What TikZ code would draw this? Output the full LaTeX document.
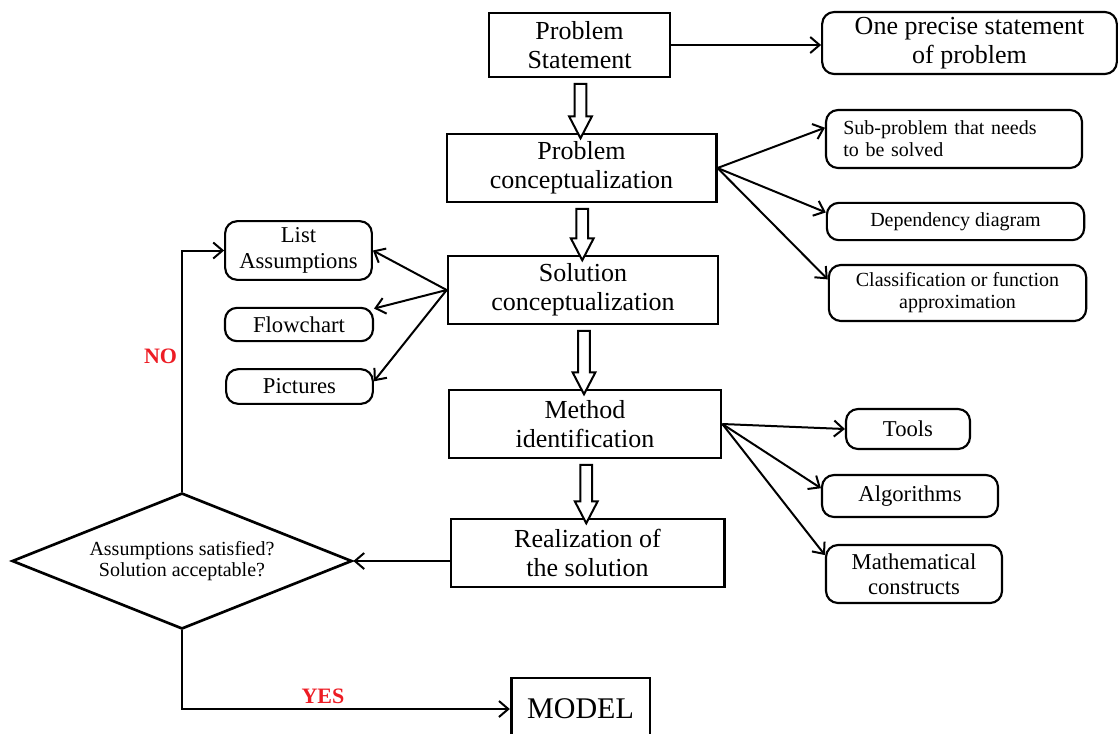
\documentclass[tikz,border=0pt]{standalone}
\usepackage{fontspec}
\setmainfont{Liberation Serif}
\usetikzlibrary{shapes.geometric,shapes.arrows,arrows.meta,calc}
\definecolor{labred}{RGB}{237,28,36}

\begin{document}
\begin{tikzpicture}[x=0.75pt,y=-0.75pt,
	>={Straight Barb[length=7pt,width=12pt]},
	box/.style={draw, line width=2pt, align=center, inner sep=0pt, font=\fontsize{19.5}{22}\selectfont},
	note/.style={draw, line width=1.6pt, rounded corners=9pt, align=center, inner sep=0pt, font=\fontsize{17}{19}\selectfont},
	smallnote/.style={note, font=\fontsize{15}{16.5}\selectfont},
	link/.style={->, line width=1.5pt},
	hollow/.style={single arrow, draw, fill=white, line width=1.5pt, rotate=-90, inner xsep=0pt, inner ysep=3.6pt, single arrow head extend=4.2pt, single arrow tip angle=55},
	answer/.style={text=labred, font=\fontsize{16.5}{18}\selectfont\bfseries}]
	\clip (0,0) rectangle (1119,733);
	\node[box, minimum width=135.75pt, minimum height=48pt] (ps) at (579.5,45) {Problem\\Statement};
	\node[note, minimum width=221pt, minimum height=46.5pt, font=\fontsize{19.5}{22}\selectfont] (one) at (969.5,43) {One precise statement\\of problem};
	\node[box, minimum width=202pt, minimum height=51pt] (pc) at (581.5,168) {Problem\\conceptualization};
	\node[smallnote, text width=166pt, inner xsep=13pt, minimum height=43.5pt, align=left] (sub) at (954,139) {Sub-problem that needs\\to be solved};
	\node[smallnote, minimum width=193pt, minimum height=28pt] (dep) at (955.5,221.5) {Dependency diagram};
	\node[smallnote, minimum width=193pt, minimum height=42pt] (cls) at (957.5,293) {Classification or function\\approximation};
	\node[box, minimum width=202.5pt, minimum height=51pt] (sc) at (583,290) {Solution\\conceptualization};
	\node[note, minimum width=110pt, minimum height=44pt] (la) at (298.5,250.5) {List\\Assumptions};
	\node[note, minimum width=111pt, minimum height=25pt] (fc) at (299,324.5) {Flowchart};
	\node[note, minimum width=110pt, minimum height=26pt] (pics) at (299.5,386.5) {Pictures};
	\node[box, minimum width=204pt, minimum height=51pt] (mi) at (585,424) {Method\\identification};
	\node[note, minimum width=93pt, minimum height=30pt] (tools) at (908,429) {Tools};
	\node[note, minimum width=132pt, minimum height=31.5pt] (alg) at (910,496) {Algorithms};
	\node[note, minimum width=132pt, minimum height=43.5pt] (math) at (914,574) {Mathematical\\constructs};
	\node[box, minimum width=205pt, minimum height=51pt] (real) at (587.5,553) {Realization of\\the solution};
	\node[diamond, draw, line width=2pt, aspect=2.5, minimum width=255pt, minimum height=102pt, inner sep=0pt, align=center, font=\fontsize{15}{16}\selectfont] (dec) at (182,561) {Assumptions satisfied?\\Solution acceptable?};
	\node[box, minimum width=104pt, minimum height=46.5pt, font=\fontsize{22.5}{25}\selectfont] (model) at (580.5,709) {MODEL};

	\foreach \a/\b in {ps/pc, pc/sc, sc/mi, mi/real}
		\path let \p1=(\a.south), \p2=(\b.north), \n1={veclen(\x2-\x1,\y2-\y1)} in node[hollow, minimum height=\n1] at ($(\p1)!.5!(\p2)$) {};

	\draw[link] (ps.east) -- (ps.east -| one.west);
	\draw[link] (pc.east) -- (sub.175);
	\draw[link] (pc.east) -- (dep.176);
	\draw[link] (pc.east) -- (cls.174);
	\draw[link] (sc.west) -- (la.east);
	\draw[link] (sc.west) -- (fc.12);
	\draw[link] (sc.west) -- (pics.4);
	\draw[link] (mi.east) -- (tools.west);
	\draw[link] (mi.east) -- (alg.175);
	\draw[link] (mi.east) -- (math.168);
	\draw[link] (dec.east -| real.west) -- (dec.east);
	\draw[link] (dec.north) -- node[pos=.56, left, answer, inner sep=3pt]{NO} (dec.north |- la.west) -- (la.west);
	\draw[link] (dec.south) -- (dec.south |- model.west) -- node[pos=.43, above, answer]{YES} (model.west);
\end{tikzpicture}
\end{document}
